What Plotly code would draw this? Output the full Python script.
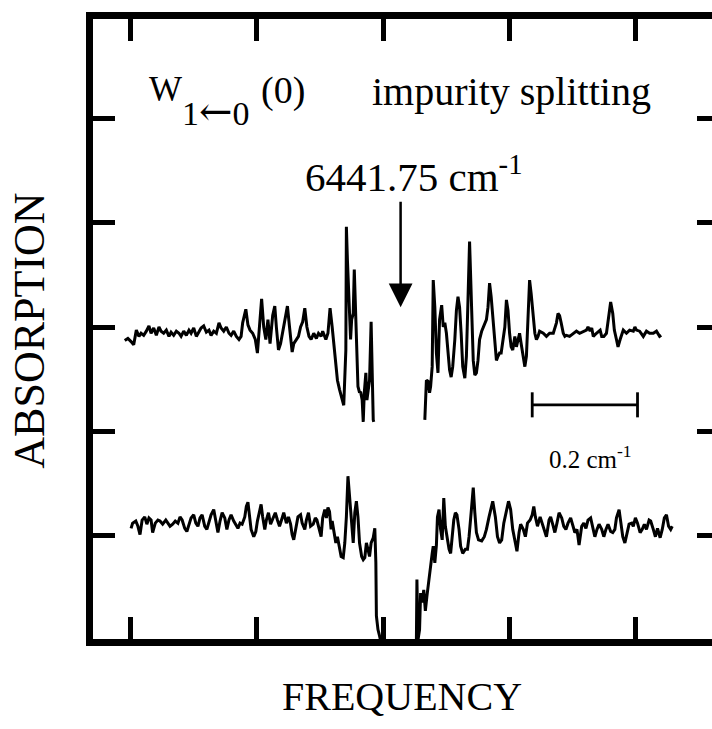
import plotly.graph_objects as go

# relative frequency (cm^-1, from first tick) and absorption (arb. units)
upper_left_x = [-0.011,-0.005,0.001,0.006,0.011,0.016,0.020,0.025,0.030,0.035,
0.039,0.044,0.049,0.054,0.058,0.063,0.068,0.073,0.077,0.082,
0.087,0.092,0.096,0.101,0.106,0.111,0.115,0.120,0.125,0.130,
0.134,0.139,0.144,0.149,0.153,0.158,0.163,0.168,0.172,0.177,
0.182,0.187,0.191,0.196,0.201,0.206,0.210,0.213,0.219,0.223,
0.227,0.232,0.237,0.241,0.245,0.249,0.253,0.257,0.261,0.265,
0.270,0.274,0.277,0.281,0.285,0.289,0.294,0.298,0.302,0.307,
0.310,0.315,0.319,0.323,0.327,0.331,0.335,0.339,0.343,0.348,
0.353,0.357,0.362,0.365,0.371,0.375,0.379,0.383,0.388,0.393,
0.397,0.402,0.405,0.409,0.410,0.412,0.415,0.418,0.420,0.423,
0.425,0.427,0.430,0.432,0.435,0.437,0.440,0.442,0.444,0.447,
0.449,0.452,0.454,0.457,0.459,0.461,0.462]
upper_left_y = [2.87,2.89,2.86,2.83,2.97,2.91,2.94,2.92,2.96,3.01,
2.94,2.99,2.92,3.00,2.96,2.94,2.97,2.91,2.95,2.92,
2.96,2.94,2.91,2.96,2.92,2.97,2.94,2.99,2.91,2.96,
2.99,3.01,2.95,2.97,2.92,2.96,2.94,3.04,2.99,2.96,
3.00,2.94,2.92,2.96,2.91,2.88,2.91,3.04,3.17,3.02,
2.97,2.94,2.88,2.75,3.04,3.27,3.00,2.88,3.07,2.84,
3.11,3.20,3.00,2.78,2.84,2.96,3.10,3.20,3.00,2.76,
2.84,2.88,2.91,3.00,3.05,3.18,3.00,2.91,2.88,2.94,
2.89,2.94,2.91,2.96,2.88,2.94,3.18,3.00,2.72,2.49,
2.40,2.30,2.25,2.78,3.96,3.64,3.16,2.88,3.07,3.13,
3.55,3.26,2.68,2.43,2.37,2.38,2.30,2.09,2.37,2.56,
2.30,2.43,2.49,3.05,2.49,2.11,2.09]

upper_right_x = [0.559,0.562,0.565,0.568,0.570,0.573,0.575,0.578,0.581,0.584,
0.587,0.591,0.594,0.597,0.600,0.603,0.606,0.609,0.612,0.616,
0.619,0.622,0.625,0.628,0.631,0.635,0.638,0.641,0.644,0.648,
0.651,0.654,0.657,0.660,0.663,0.667,0.670,0.673,0.676,0.679,
0.682,0.685,0.689,0.692,0.695,0.698,0.701,0.704,0.707,0.711,
0.714,0.717,0.720,0.723,0.726,0.730,0.733,0.736,0.739,0.742,
0.745,0.749,0.752,0.755,0.758,0.761,0.765,0.768,0.771,0.774,
0.777,0.784,0.790,0.796,0.803,0.809,0.812,0.815,0.818,0.822,
0.825,0.828,0.834,0.841,0.847,0.853,0.860,0.866,0.869,0.873,
0.876,0.879,0.885,0.892,0.895,0.899,0.904,0.909,0.912,0.916,
0.919,0.923,0.926,0.930,0.936,0.942,0.948,0.955,0.958,0.961,
0.967,0.974,0.980,0.986,0.993,0.999,1.005,1.008]
upper_right_y = [2.11,2.49,2.48,2.37,2.43,2.62,3.45,3.19,2.75,2.56,
3.07,3.21,3.00,3.04,2.94,2.75,2.59,2.52,2.62,2.88,
3.16,3.29,3.19,2.94,2.62,2.51,2.72,3.26,3.82,3.16,
2.68,2.54,2.56,2.68,2.88,2.96,3.00,3.05,3.07,3.19,
3.42,3.29,3.04,2.81,2.68,2.72,2.75,2.75,2.84,3.00,
3.26,3.16,2.94,2.81,2.78,2.91,2.81,2.88,2.94,2.84,
2.75,2.62,2.72,3.10,3.45,3.32,3.10,2.94,2.88,2.91,
2.96,2.94,2.91,2.94,2.94,3.04,3.13,3.11,3.04,2.94,
2.91,2.92,2.91,2.94,2.96,2.94,2.96,2.97,3.00,2.96,
2.99,2.91,2.94,2.97,2.91,2.91,2.94,3.10,3.24,3.13,
2.97,2.88,2.81,2.88,2.97,2.94,2.97,2.96,3.00,2.97,
2.96,2.91,2.96,2.94,2.94,2.96,2.91,2.92]

lower_left_x = [0.001,0.004,0.010,0.014,0.018,0.022,0.027,0.031,0.035,0.039,
0.042,0.047,0.052,0.056,0.061,0.067,0.071,0.075,0.080,0.085,
0.090,0.094,0.098,0.103,0.107,0.111,0.115,0.120,0.124,0.128,
0.132,0.136,0.141,0.145,0.149,0.153,0.158,0.162,0.166,0.170,
0.174,0.179,0.183,0.187,0.191,0.196,0.200,0.204,0.208,0.212,
0.217,0.220,0.223,0.226,0.229,0.234,0.238,0.241,0.245,0.248,
0.251,0.255,0.258,0.262,0.266,0.271,0.275,0.279,0.283,0.288,
0.291,0.296,0.300,0.304,0.307,0.310,0.314,0.318,0.323,0.326,
0.331,0.334,0.338,0.342,0.347,0.351,0.354,0.359,0.362,0.365,
0.369,0.372,0.375,0.378,0.381,0.383,0.386,0.390,0.393,0.397,
0.400,0.404,0.407,0.410,0.413,0.416,0.420,0.423,0.426,0.429,
0.432,0.435,0.439,0.442,0.445,0.448,0.451,0.454,0.457,0.461,
0.464,0.466,0.467,0.470,0.473,0.476]
lower_left_y = [1.07,1.12,1.14,1.09,1.01,1.15,1.18,1.11,1.17,1.15,
1.03,1.12,1.15,1.14,1.11,1.15,1.12,1.09,1.11,1.14,
1.12,1.18,1.15,1.07,1.04,1.11,1.17,1.20,1.12,1.09,
1.17,1.20,1.09,1.06,1.14,1.20,1.25,1.12,1.03,1.14,
1.22,1.17,1.06,1.15,1.20,1.14,1.11,1.07,1.12,1.11,
1.18,1.28,1.32,1.15,1.06,0.99,1.04,1.14,1.25,1.30,
1.18,1.06,1.15,1.22,1.11,1.17,1.22,1.15,1.09,1.17,
1.22,1.12,1.18,1.11,1.01,0.96,1.09,1.18,1.20,1.12,
1.06,1.15,1.22,1.09,1.11,1.17,1.15,1.06,0.99,1.17,
1.25,1.17,1.27,1.23,1.06,1.14,1.06,0.93,0.99,0.88,
0.80,0.79,0.93,1.18,1.57,1.38,1.12,0.93,1.22,1.33,
1.18,0.93,0.80,0.77,0.79,0.93,0.87,0.80,0.93,0.98,
1.07,0.74,0.23,0.10,0.04,-0.03]

lower_right_x = [0.543,0.544,0.546,0.549,0.551,0.554,0.557,0.560,0.563,0.567,
0.570,0.573,0.575,0.578,0.581,0.583,0.586,0.589,0.592,0.595,
0.598,0.601,0.605,0.608,0.611,0.614,0.617,0.620,0.624,0.627,
0.631,0.636,0.640,0.643,0.647,0.651,0.654,0.657,0.661,0.667,
0.672,0.676,0.681,0.685,0.688,0.693,0.697,0.701,0.705,0.709,
0.714,0.718,0.722,0.726,0.731,0.734,0.738,0.741,0.746,0.750,
0.754,0.759,0.763,0.766,0.769,0.773,0.778,0.782,0.786,0.790,
0.795,0.798,0.803,0.806,0.810,0.814,0.819,0.823,0.827,0.831,
0.836,0.840,0.844,0.848,0.852,0.857,0.861,0.865,0.869,0.874,
0.878,0.882,0.886,0.890,0.895,0.899,0.903,0.907,0.912,0.916,
0.920,0.923,0.928,0.931,0.935,0.939,0.944,0.947,0.952,0.955,
0.959,0.963,0.968,0.972,0.976,0.980,0.985,0.988,0.993,0.997,
1.001,1.006,1.010,1.014,1.018,1.022,1.026,1.029]
lower_right_y = [0.00,0.58,0.00,0.10,0.45,0.36,0.48,0.28,0.42,0.61,
0.71,0.83,0.90,0.74,0.91,1.18,1.25,1.06,0.96,1.36,
1.09,0.99,0.87,0.83,0.99,1.15,1.22,1.20,1.06,0.90,
0.83,0.87,0.87,0.99,1.22,1.46,1.22,1.03,0.96,0.95,
0.99,1.06,1.18,1.28,1.33,1.18,0.99,0.93,0.96,1.12,
1.25,1.33,1.25,1.06,0.93,0.85,1.03,1.11,1.06,0.99,
1.12,1.15,1.20,1.28,1.18,1.09,1.18,1.12,1.06,0.99,
1.15,1.18,1.09,1.03,1.12,1.22,1.17,1.09,1.06,1.12,
1.17,1.11,1.03,1.06,0.91,1.09,1.12,1.07,1.15,1.17,
1.06,0.99,1.06,1.11,1.06,0.99,1.06,1.11,1.04,1.03,
1.06,1.17,1.25,1.15,0.99,0.93,1.06,1.11,1.12,1.09,
1.17,1.12,1.03,1.06,1.11,1.06,1.15,1.14,1.06,0.99,
1.07,0.98,1.06,1.17,1.20,1.09,1.06,1.09]

x_ticks = [0.0, 0.24, 0.48, 0.72, 0.96]
y_ticks = [1, 2, 3, 4, 5]
x_range = [-0.0713, 1.1045]
y_range = [0.0096, 5.952]

line_center = 0.513       # 6441.75 cm^-1 position
line_center_y = 3.19
scale_bar_x = [0.763, 0.963]   # 0.2 cm^-1
scale_bar_y = [2.254, 2.254]

FONT = "Liberation Serif, Times New Roman, serif"
BLACK = "#000000"

fig = go.Figure()
fig.add_trace(go.Scatter(
    x=upper_left_x + [None] + upper_right_x,
    y=upper_left_y + [None] + upper_right_y,
    mode="lines", line=dict(color=BLACK, width=3), connectgaps=False,
    hoverinfo="skip"))
fig.add_trace(go.Scatter(
    x=lower_left_x + [None] + lower_right_x,
    y=lower_left_y + [None] + lower_right_y,
    mode="lines", line=dict(color=BLACK, width=3), connectgaps=False,
    yaxis="y2", hoverinfo="skip"))
fig.add_trace(go.Scatter(
    x=scale_bar_x, y=scale_bar_y, mode="lines",
    line=dict(color=BLACK, width=2.8),
    error_y=dict(type="constant", value=0.12, color=BLACK, thickness=2.8, width=0),
    hoverinfo="skip"))

axis_common = dict(showgrid=False, zeroline=False, showticklabels=False,
                   ticks="inside", tickcolor=BLACK)
fig.update_layout(
    width=712, height=729,
    margin=dict(l=93, r=0, t=19, b=90),
    paper_bgcolor="white", plot_bgcolor="white",
    showlegend=False,
    xaxis=dict(range=x_range, tickvals=x_ticks, showline=True, linecolor=BLACK,
               linewidth=7, mirror="ticks", ticklen=22, tickwidth=5, **axis_common),
    yaxis=dict(range=y_range, tickvals=y_ticks, showline=True, linecolor=BLACK,
               linewidth=7, ticklen=22, tickwidth=5, **axis_common),
    yaxis2=dict(range=y_range, tickvals=y_ticks, overlaying="y", side="right",
                showline=False, ticklen=15, tickwidth=5, **axis_common),
)

ann_font = dict(family=FONT, color=BLACK)
anns = [
    dict(text="W", x=0.0865, y=0.8865, xanchor="left", yanchor="middle", size=35),
    dict(text="1<span style='font-family:DejaVu Serif;font-size:40px'>\u2190</span>0", x=0.1399, y=0.851,
         xanchor="left", yanchor="middle", size=34),
    dict(text="(0)", x=0.268, y=0.885, xanchor="left", yanchor="middle", size=38),
    dict(text="impurity splitting", x=0.447, y=0.883, xanchor="left", yanchor="middle", size=40),
    dict(text="6441.75 cm<sup>-1</sup>", x=0.340, y=0.75, xanchor="left", yanchor="middle", size=41),
    dict(text="0.2 cm<sup>-1</sup>", x=0.733, y=0.293, xanchor="left", yanchor="middle", size=25),
    dict(text="ABSORPTION", x=-0.1027, y=0.498, xanchor="center", yanchor="middle", size=44, textangle=-90),
    dict(text="FREQUENCY", x=0.4988, y=-0.0926, xanchor="center", yanchor="middle", size=40),
]
for a in anns:
    size = a.pop("size")
    fig.add_annotation(xref="paper", yref="paper", showarrow=False,
                       font=dict(size=size, **ann_font), **a)

fig.add_annotation(x=line_center, y=line_center_y, xref="x", yref="y",
                   ax=0, ay=-107, axref="pixel", ayref="pixel",
                   showarrow=True, arrowhead=2, arrowsize=1.9, arrowwidth=2.5,
                   arrowcolor=BLACK, text="")

fig.write_html("out.html")
